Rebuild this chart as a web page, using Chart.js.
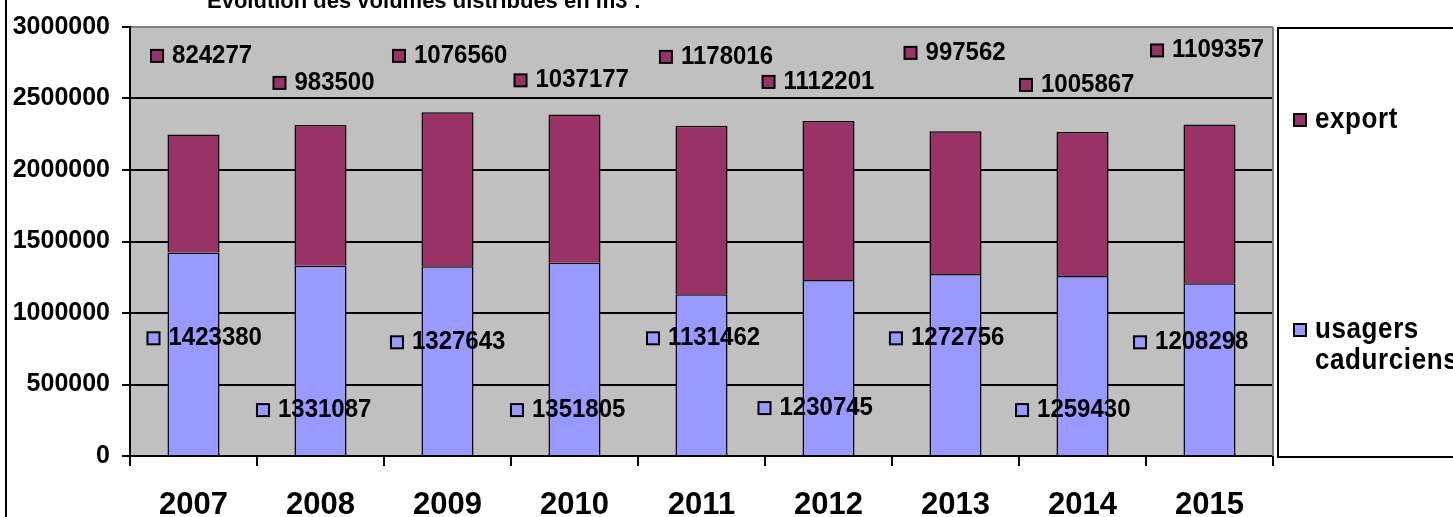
<!DOCTYPE html>
<html>
<head>
<meta charset="utf-8">
<script src="https://cdn.jsdelivr.net/npm/chart.js@4/dist/chart.umd.min.js"></script>
<style>
html,body{margin:0;padding:0;background:#fff;overflow:hidden}
canvas{display:block}
</style>
</head>
<body>
<canvas id="c" width="1453" height="517"></canvas>
<script>
// ---- data ----
const categories = ['2007','2008','2009','2010','2011','2012','2013','2014','2015'];
const usagersCadurciens = [1423380,1331087,1327643,1351805,1131462,1230745,1272756,1259430,1208298];
const exportVolumes = [824277,983500,1076560,1037177,1178016,1112201,997562,1005867,1109357];
const seriesNames = ['usagers cadurciens','export'];
const chartTitle = 'Evolution des volumes distribués en m3 :';
const yMin = 0, yMax = 3000000, yStep = 500000;

// ---- data-label anchors (label placement, not data) ----
// x offset as a fraction of a category width, y in value units
const exportLabelDX = [-0.287,-0.323,-0.382,-0.425,-0.280,-0.472,-0.354,-0.445,-0.413];
const exportLabelY  = [2798000,2609000,2798000,2627000,2791000,2616000,2819000,2595000,2836000];
const usagersLabelDX = [-0.315,-0.453,-0.398,-0.453,-0.382,-0.504,-0.469,-0.476,-0.547];
const usagersLabelY  = [823000,321000,795000,321000,823000,335000,823000,321000,795000];

const FONT = "'Liberation Sans', Arial, Helvetica, sans-serif";
const COL_USAGERS = '#9999FF';
const COL_EXPORT = '#993366';

function tallText(ctx, text, x, y, sy) {
  ctx.save();
  ctx.translate(x, y);
  ctx.scale(1, sy);
  ctx.fillText(text, 0, 0);
  ctx.restore();
}

const excelPlugin = {
  id: 'excelLook',
  beforeDraw(chart) {
    const {ctx, chartArea: a} = chart;
    ctx.save();
    ctx.fillStyle = '#ffffff';
    ctx.fillRect(0, 0, chart.width, chart.height);
    ctx.fillStyle = '#C0C0C0';
    ctx.fillRect(a.left, a.top, a.right - a.left, a.bottom - a.top);
    ctx.restore();
  },
  afterDatasetsDraw(chart) {
    const {ctx} = chart;
    const xs = chart.scales.x, ys = chart.scales.y;
    const cw = xs.getPixelForValue(1) - xs.getPixelForValue(0);
    ctx.save();
    function drawLabels(vals, dx, ly, color) {
      vals.forEach((v, i) => {
        const cx = xs.getPixelForValue(i) + dx[i] * cw;
        const cy = ys.getPixelForValue(ly[i]);
        ctx.fillStyle = color;
        ctx.fillRect(cx - 6, cy - 6, 12, 12);
        ctx.strokeStyle = '#000';
        ctx.lineWidth = 2;
        ctx.strokeRect(cx - 6, cy - 6, 12, 12);
        ctx.fillStyle = '#000';
        ctx.font = 'bold 24px ' + FONT;
        ctx.textAlign = 'left';
        ctx.textBaseline = 'alphabetic';
        tallText(ctx, String(v), cx + 15, cy + 7, 1.07);
      });
    }
    const ds = chart.data.datasets;
    drawLabels(ds[1].data, exportLabelDX, exportLabelY, COL_EXPORT);
    drawLabels(ds[0].data, usagersLabelDX, usagersLabelY, COL_USAGERS);
    ctx.restore();
  },
  afterDraw(chart) {
    const {ctx, chartArea: a} = chart;
    ctx.save();
    // right border of plot area (grey)
    ctx.strokeStyle = '#808080';
    ctx.lineWidth = 2;
    ctx.beginPath();
    ctx.moveTo(a.right, a.top);
    ctx.lineTo(a.right, a.bottom);
    ctx.stroke();
    // left frame line of the chart object
    ctx.fillStyle = '#000';
    ctx.fillRect(5, 0, 2, chart.height);
    // title (cut at the top)
    ctx.font = 'bold 22px ' + FONT;
    ctx.textAlign = 'left';
    ctx.textBaseline = 'alphabetic';
    ctx.fillText(chartTitle, 207, 8);
    // legend box
    ctx.fillStyle = '#fff';
    ctx.fillRect(1278, 28, 300, 429);
    ctx.strokeStyle = '#000';
    ctx.lineWidth = 2;
    ctx.strokeRect(1278, 28, 300, 429);
    const ds = chart.data.datasets;
    const items = [
      {ds: ds[1], y: 120},
      {ds: ds[0], y: 330}
    ];
    ctx.font = 'bold 26px ' + FONT;
    try { ctx.letterSpacing = '0.6px'; } catch (e) {}
    items.forEach(it => {
      ctx.fillStyle = it.ds.backgroundColor;
      ctx.fillRect(1294, it.y - 6, 12, 12);
      ctx.strokeStyle = '#000';
      ctx.lineWidth = 2;
      ctx.strokeRect(1294, it.y - 6, 12, 12);
      ctx.fillStyle = '#000';
      const words = it.ds.label.split(' ');
      words.forEach((w, k) => {
        tallText(ctx, w, 1315, it.y + 8 + k * 31, 1.1);
      });
    });
    ctx.restore();
  }
};

new Chart(document.getElementById('c'), {
  type: 'bar',
  data: {
    labels: categories,
    datasets: [
      {
        label: seriesNames[0],
        data: usagersCadurciens,
        backgroundColor: COL_USAGERS,
        borderColor: '#000',
        borderWidth: 1.5,
        barPercentage: 0.41,
        categoryPercentage: 1
      },
      {
        label: seriesNames[1],
        data: exportVolumes,
        backgroundColor: COL_EXPORT,
        borderColor: '#000',
        borderWidth: 1.5,
        barPercentage: 0.41,
        categoryPercentage: 1
      }
    ]
  },
  options: {
    responsive: false,
    animation: false,
    events: [],
    layout: { padding: { top: 26, right: 180, left: 0, bottom: 0 } },
    plugins: {
      legend: { display: false },
      tooltip: { enabled: false },
      title: { display: false }
    },
    scales: {
      x: {
        stacked: true,
        offset: true,
        grid: {
          offset: true,
          drawOnChartArea: false,
          drawTicks: true,
          tickLength: 10,
          color: '#000',
          lineWidth: 2
        },
        border: { color: '#000', width: 2 },
        ticks: {
          color: '#000',
          font: { family: FONT, size: 31, weight: 'bold' },
          padding: 21,
          maxRotation: 0,
          autoSkip: false
        },
        afterFit(s) { s.height = 61; }
      },
      y: {
        stacked: true,
        min: yMin,
        max: yMax,
        grid: {
          color: c => (c.tick && c.tick.value === yMax) ? '#808080' : '#000',
          tickColor: '#000',
          tickLength: 8,
          lineWidth: 2
        },
        border: { color: '#000', width: 2 },
        ticks: {
          stepSize: yStep,
          color: '#000',
          padding: 12,
          font: { family: FONT, size: 25, weight: 'bold' },
          callback: v => String(v)
        },
        afterFit(s) { s.width = 130; }
      }
    }
  },
  plugins: [excelPlugin]
});
</script>
</body>
</html>
